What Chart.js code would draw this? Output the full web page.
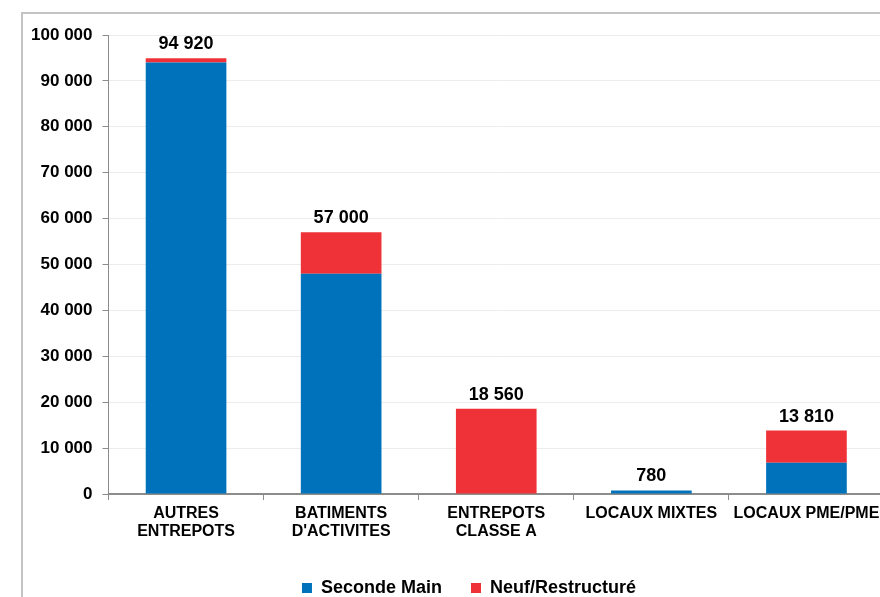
<!DOCTYPE html>
<html>
<head>
<meta charset="utf-8">
<script src="https://cdn.jsdelivr.net/npm/chart.js@4/dist/chart.umd.min.js"></script>
<style>
  html, body { margin: 0; padding: 0; background: #ffffff; overflow: hidden; width: 880px; height: 597px; }
  #frame { position: absolute; left: 21px; top: 12px; border-left: 2px solid #c4c4c4; border-top: 2px solid #c4c4c4; width: 900px; height: 600px; }
  canvas { display: block; }
</style>
</head>
<body>
<div id="frame"><canvas id="c" width="892" height="600"></canvas></div>
<script>
const categories = [['AUTRES', 'ENTREPOTS'], ['BATIMENTS', "D'ACTIVITES"], ['ENTREPOTS', 'CLASSE A'], 'LOCAUX MIXTES', 'LOCAUX PME/PME'];
const secondeMain = [94000, 48000, 0, 780, 6800];
const neufRestructure = [920, 9000, 18560, 0, 7010];
const seriesNames = ['Seconde Main', 'Neuf/Restructuré'];
const yMin = 0, yMax = 100000, yStep = 10000;

const BLUE = '#0072BC';
const RED = '#EE3237';
const FONT = "'Liberation Sans', Arial, sans-serif";

function fmt(v) {
  return String(Math.round(v)).replace(/\B(?=(\d{3})+(?!\d))/g, ' ');
}

const totalLabels = {
  id: 'totalLabels',
  afterDatasetsDraw(chart) {
    const ctx = chart.ctx;
    const ys = chart.scales.y;
    const meta = chart.getDatasetMeta(0);
    ctx.save();
    ctx.font = 'bold 18px ' + FONT;
    ctx.fillStyle = '#000';
    ctx.textAlign = 'center';
    ctx.textBaseline = 'alphabetic';
    categories.forEach((c, i) => {
      const total = chart.data.datasets.reduce((s, d) => s + (d.data[i] || 0), 0);
      const y = ys.getPixelForValue(total);
      ctx.fillText(fmt(total), meta.data[i].x, y - 9);
    });
    ctx.restore();
  }
};

// centre the legend on the whole frame (the plot itself runs past the right edge)
const legendShift = {
  id: 'legendShift',
  afterLayout(chart) {
    if (chart.legend) { chart.legend.left += 15.5; chart.legend.right += 15.5; }
  }
};

new Chart(document.getElementById('c'), {
  type: 'bar',
  data: {
    labels: categories,
    datasets: [
      { label: seriesNames[0], data: secondeMain, backgroundColor: BLUE, borderWidth: 0 },
      { label: seriesNames[1], data: neufRestructure, backgroundColor: RED, borderWidth: 0 }
    ]
  },
  options: {
    responsive: false,
    animation: false,
    devicePixelRatio: 1,
    categoryPercentage: 0.52,
    barPercentage: 1,
    layout: { padding: { top: 21, right: 31, left: 0, bottom: 7 } },
    plugins: {
      tooltip: { enabled: false },
      legend: {
        position: 'bottom',
        labels: {
          boxWidth: 10, boxHeight: 10, padding: 29,
          color: '#000',
          font: { family: FONT, size: 18, weight: 'bold' }
        }
      }
    },
    scales: {
      x: {
        stacked: true,
        offset: true,
        grid: { offset: true, drawOnChartArea: false, drawTicks: true, tickLength: 6, color: '#8c8c8c', tickColor: '#8c8c8c' },
        border: { display: true, color: '#8c8c8c', width: 2 },
        ticks: { color: '#000', autoSkip: false, maxRotation: 0, minRotation: 0, padding: 4,
                 font: { family: FONT, size: 16, weight: 'bold', lineHeight: 1.15 } },
        afterFit(s) { s.height = 56; }
      },
      y: {
        stacked: true,
        min: yMin, max: yMax,
        ticks: { stepSize: yStep, color: '#000', padding: 10,
                 font: { family: FONT, size: 17, weight: 'bold' },
                 callback: v => fmt(v) },
        grid: { color: '#ececec', tickColor: '#8c8c8c', tickLength: 6, drawTicks: true },
        border: { display: true, color: '#8c8c8c', width: 1 },
        afterFit(s) { s.width = 85.5; }
      }
    }
  },
  plugins: [totalLabels, legendShift]
});
</script>
</body>
</html>
